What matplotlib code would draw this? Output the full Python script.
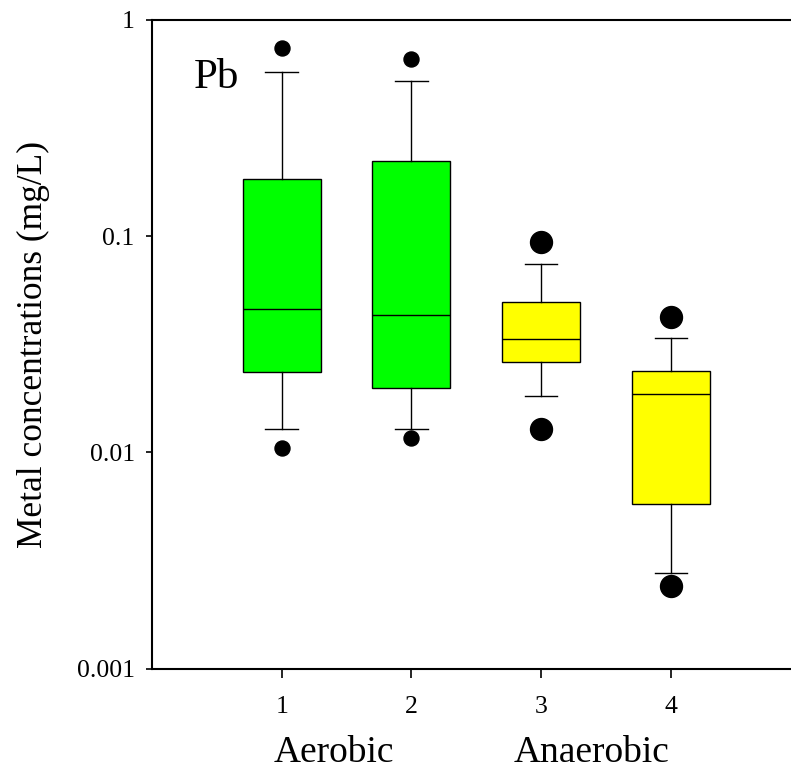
import numpy as np
import matplotlib.pyplot as plt

plt.rcParams['font.family'] = ['Liberation Serif', 'DejaVu Serif']

# box statistics (mg/L)
positions = [1, 2, 3, 4]
q1 = [0.0235, 0.0198, 0.0261, 0.00574]
med = [0.0459, 0.0431, 0.0334, 0.0186]
q3 = [0.1836, 0.2225, 0.0495, 0.0237]
whislo = [0.01277, 0.01277, 0.01816, 0.00278]
whishi = [0.574, 0.522, 0.0742, 0.0337]
outliers = [[0.742, 0.01044], [0.66, 0.01165], [0.0938, 0.01277], [0.0422, 0.0024]]
colors = ['#00ff00', '#00ff00', '#ffff00', '#ffff00']
dot_size = [10.8, 10.8, 15.8, 15.8]

fig = plt.figure(figsize=(7.91, 7.72), dpi=100)
ax = fig.add_axes([152 / 791, 103.5 / 772, 648.5 / 791, 648.5 / 772])

for i in range(4):
    stats = [dict(med=med[i], q1=q1[i], q3=q3[i], whislo=whislo[i],
                  whishi=whishi[i], fliers=outliers[i])]
    bp = ax.bxp(stats, positions=[positions[i]], widths=0.6, capwidths=0.25,
                patch_artist=True, manage_ticks=False,
                boxprops=dict(facecolor=colors[i], edgecolor='black', linewidth=1.0),
                medianprops=dict(color='black', linewidth=1.0),
                whiskerprops=dict(color='black', linewidth=1.0),
                capprops=dict(color='black', linewidth=1.0),
                flierprops=dict(marker='o', markerfacecolor='black',
                                markeredgecolor='black', markersize=dot_size[i]))

ax.set_yscale('log')
ax.set_ylim(0.001, 1)
ax.set_xlim(0, 5)
ax.set_yticks([0.001, 0.01, 0.1, 1])
ax.set_yticklabels(['0.001', '0.01', '0.1', '1'])
ax.yaxis.set_minor_locator(plt.NullLocator())
ax.set_xticks(positions)
ax.set_xticklabels(['1', '2', '3', '4'])
ax.tick_params(axis='y', direction='out', length=4.5, width=1.2, labelsize=18.5, pad=8)
ax.tick_params(axis='x', direction='out', length=6.5, width=1.2, labelsize=18.5, pad=13)
for s in ax.spines.values():
    s.set_linewidth(1.5)

ax.set_ylabel('Metal concentrations (mg/L)', fontsize=25.5, labelpad=19)
ax.text(0.065, 0.911, 'Pb', transform=ax.transAxes, fontsize=31, va='center', ha='left')

# group labels under the axis
trans = ax.get_xaxis_transform()
ax.text(1.40, -0.13, 'Aerobic', transform=trans, fontsize=27, ha='center', va='center')
ax.text(3.39, -0.13, 'Anaerobic', transform=trans, fontsize=27, ha='center', va='center')

fig.savefig('out.png', dpi=100)
